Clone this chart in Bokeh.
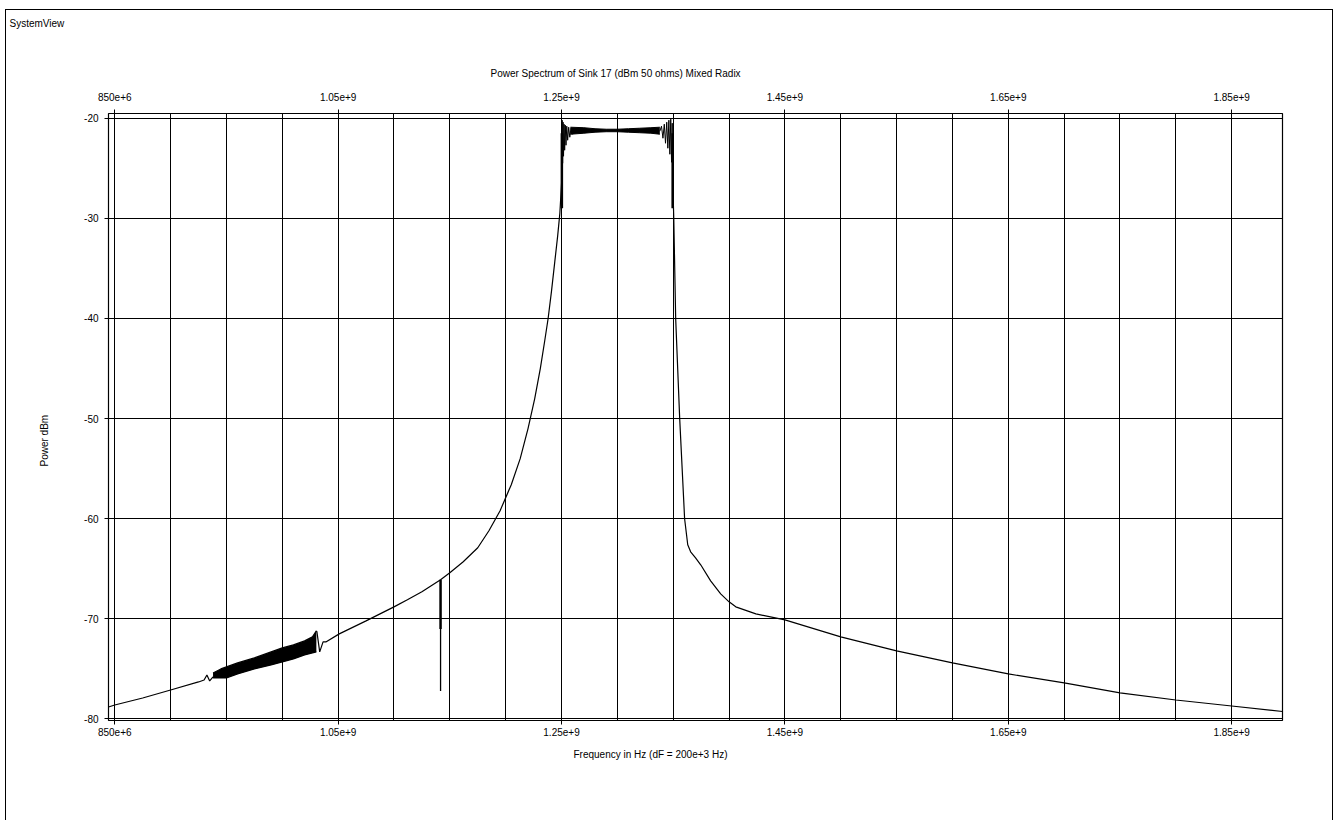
import numpy as np
from bokeh.plotting import figure
from bokeh.models import Range1d, LinearAxis, FixedTicker, Title
from bokeh.embed import file_html
from bokeh.resources import INLINE

FONT = "Liberation Sans"

# ---------------- data (frequency in MHz, power in dBm) ----------------
# low-side skirt before the noisy region
seg1_f = [844.4, 850, 875, 900, 925, 930, 932.5, 935, 938]
seg1_p = [-78.8, -78.6, -77.9, -77.1, -76.3, -76.1, -75.6, -76.2, -75.8]

# dense noisy band (lower / upper envelopes)
band_f = [938, 945, 950, 960, 975, 990, 1000, 1010, 1020, 1027, 1030.5]
band_lo = [-75.9, -75.9, -75.9, -75.5, -75.0, -74.6, -74.3, -74.0, -73.6, -73.4, -73.3]
band_hi = [-75.4, -75.0, -74.8, -74.4, -73.9, -73.3, -72.9, -72.6, -72.2, -71.8, -71.2]

# rising skirt up to the pass band
seg2_f = [1030.5, 1031, 1033.5, 1036.5, 1039, 1051, 1075, 1100, 1112, 1125, 1141.7,
          1150, 1162, 1175, 1185, 1195, 1205, 1213, 1220, 1226, 1231, 1235, 1238,
          1241, 1244, 1246.5, 1248.5, 1250.3]
seg2_p = [-71.2, -71.3, -73.3, -72.3, -72.3, -71.5, -70.2, -68.8, -68.1, -67.3, -66.1,
          -65.4, -64.3, -62.9, -61.2, -59.2, -56.6, -54.0, -51.0, -48.0, -45.0, -42.2,
          -40.0, -37.3, -34.3, -31.8, -29.5, -26.0]

# pass band: left edge ripple
ripL_f = [1250.3, 1250.6, 1251.0, 1251.4, 1251.8, 1252.3, 1252.8, 1253.4, 1254.0,
          1254.7, 1255.5, 1256.4, 1257.4, 1258.5, 1260, 1262]
ripL_p = [-26.0, -20.2, -24.5, -20.4, -23.8, -20.6, -23.2, -20.7, -22.7,
          -20.8, -22.2, -20.9, -21.9, -21.0, -21.6, -21.2]

# pass band: flat top (dense ripple envelope)
flat_f = [1258, 1270, 1280, 1290, 1300, 1310, 1320, 1330, 1338]
flat_lo = [-21.6, -21.5, -21.4, -21.35, -21.35, -21.4, -21.45, -21.5, -21.6]
flat_hi = [-20.9, -20.95, -21.05, -21.1, -21.1, -21.05, -21.0, -20.95, -20.9]

# pass band: right edge ripple
ripR_f = [1338, 1339.5, 1340.8, 1342, 1343.1, 1344.2, 1345.2, 1346.1, 1347,
          1347.8, 1348.5, 1349.1, 1349.5]
ripR_p = [-21.3, -20.8, -22.0, -20.6, -22.5, -20.4, -23.0, -20.2, -23.6,
          -20.1, -24.4, -20.5, -26.0]

# high-side skirt and tail
seg3_f = [1349.5, 1350.5, 1352.2, 1355.8, 1360.2, 1363, 1365.6, 1370, 1374.6, 1383.5,
          1392.5, 1400, 1406, 1424, 1450, 1500, 1550, 1600, 1650, 1700, 1750, 1800,
          1850, 1895.5]
seg3_p = [-26.0, -30.0, -40.0, -50.0, -60.0, -62.6, -63.3, -63.9, -64.6, -66.2,
          -67.5, -68.3, -68.8, -69.5, -70.1, -71.8, -73.2, -74.4, -75.5, -76.4,
          -77.4, -78.1, -78.7, -79.25]

# band edges (dense vertical ripple)
edge_f = [1250.3, 1349.5]
edge_top = [-21.5, -21.5]
edge_bot = [-29.0, -29.0]

# spurious line
spike_f = [1141.7]
spike_top = [-66.1]
spike_mid = [-71.0]
spike_bot = [-77.2]

# axes
x_tick_values = [850, 1050, 1250, 1450, 1650, 1850]
x_tick_labels = ["850e+6", "1.05e+9", "1.25e+9", "1.45e+9", "1.65e+9", "1.85e+9"]
x_grid_values = [850 + 50 * i for i in range(21)]
y_tick_values = [-80, -70, -60, -50, -40, -30, -20]
y_tick_labels = ["-80", "-70", "-60", "-50", "-40", "-30", "-20"]

title_text = "Power Spectrum of Sink 17 (dBm 50 ohms) Mixed Radix"
x_label_text = "Frequency in Hz (dF = 200e+3 Hz)"
y_label_text = "Power dBm"
corner_text = "SystemView"

# ---------------- figure ----------------
p = figure(width=1326, height=810, output_backend="svg", toolbar_location=None,
           x_range=Range1d(844.4, 1895.5), y_range=Range1d(-80.15, -19.53),
           min_border_left=102, min_border_right=50, min_border_top=103,
           min_border_bottom=100, background_fill_color="white",
           border_fill_color="white")
p.title.visible = False
p.outline_line_color = "black"
p.outline_line_width = 1.2
p.styles = {"margin-left": "6px", "margin-top": "10px", "outline": "1px solid black"}

top_axis = LinearAxis()
p.add_layout(top_axis, "above")

x_over = {float(v): s for v, s in zip(x_tick_values, x_tick_labels)}
y_over = {float(v): s for v, s in zip(y_tick_values, y_tick_labels)}
for ax in p.xaxis:
    ax.ticker = FixedTicker(ticks=x_tick_values)
    ax.major_label_overrides = x_over
for ax in p.yaxis:
    ax.ticker = FixedTicker(ticks=y_tick_values)
    ax.major_label_overrides = y_over
    ax.major_label_standoff = 6

for ax in list(p.xaxis) + list(p.yaxis):
    ax.axis_line_color = None
    ax.major_tick_line_color = "black"
    ax.major_tick_out = 4
    ax.major_tick_in = 0
    ax.minor_tick_line_color = None
    ax.major_label_text_font = FONT
    ax.major_label_text_font_size = "10px"
    ax.major_label_text_color = "black"

for ax in p.below:
    ax.major_label_standoff = 3
top_axis.major_label_standoff = 9

p.xgrid.ticker = FixedTicker(ticks=x_grid_values)
p.ygrid.ticker = FixedTicker(ticks=y_tick_values)
for g in [p.xgrid, p.ygrid]:
    g.grid_line_color = "black"
    g.grid_line_alpha = 1.0
    g.grid_line_width = 1

# ---------------- texts (titles in side panels) ----------------
def mk_title(text, align, offset, valign, standoff):
    return Title(text=text, align=align, offset=offset, vertical_align=valign,
                 standoff=standoff, text_font=FONT, text_font_size="10px",
                 text_font_style="normal", text_color="black")

p.add_layout(mk_title(title_text, "left", 382, "top", 18), "above")
p.add_layout(mk_title(corner_text + "\n\n", "left", -99, "top", 12), "above")
p.add_layout(mk_title(x_label_text, "left", 465, "top", 21), "below")
p.add_layout(mk_title(y_label_text, "left", 254, "top", 60), "left")

# ---------------- data marks ----------------
LW = 1.2
p.line(seg1_f, seg1_p, line_color="black", line_width=LW)
p.varea(x=band_f, y1=band_lo, y2=band_hi, fill_color="black")
p.line(band_f, band_hi, line_color="black", line_width=LW)
p.line(band_f, band_lo, line_color="black", line_width=LW)
p.line(seg2_f, seg2_p, line_color="black", line_width=LW)
p.line(ripL_f, ripL_p, line_color="black", line_width=1.0)
p.varea(x=flat_f, y1=flat_lo, y2=flat_hi, fill_color="black")
p.line(flat_f, flat_lo, line_color="black", line_width=1.0)
p.line(flat_f, flat_hi, line_color="black", line_width=1.0)
p.line(ripR_f, ripR_p, line_color="black", line_width=1.0)
p.line(seg3_f, seg3_p, line_color="black", line_width=LW)
p.segment(x0=edge_f, y0=edge_top, x1=edge_f, y1=edge_bot, line_color="black", line_width=2.5)
p.segment(x0=spike_f, y0=spike_top, x1=spike_f, y1=spike_mid, line_color="black", line_width=2.5)
p.segment(x0=spike_f, y0=spike_mid, x1=spike_f, y1=spike_bot, line_color="black", line_width=1.3)

open("out.html", "w").write(file_html(p, INLINE))
